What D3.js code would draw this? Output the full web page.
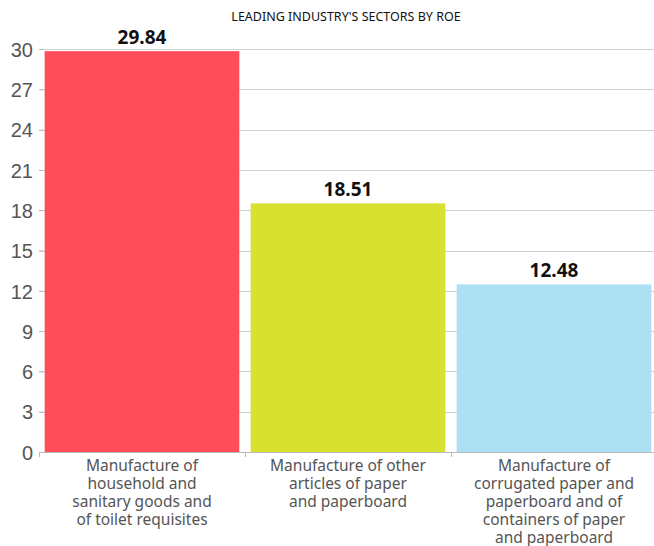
<!DOCTYPE html>
<meta charset="utf-8">
<style>
body { margin: 0; background: #fff; }
svg { font-family: "Noto Sans", "Open Sans", sans-serif; }
.grid line { stroke: #cfcfcf; stroke-width: 1; }
.axis text { fill: #555; }
</style>
<svg width="654" height="546"></svg>
<script src="https://d3js.org/d3.v7.min.js"></script>
<script>

var categories = [
  ["Manufacture of", "household and", "sanitary goods and", "of toilet requisites"],
  ["Manufacture of other", "articles of paper", "and paperboard"],
  ["Manufacture of", "corrugated paper and", "paperboard and of", "containers of paper", "and paperboard"]
];
var values = [29.84, 18.51, 12.48];
var colors = ["#ff4d5a", "#d8e030", "#ade0f3"];
var yTicks = [0, 3, 6, 9, 12, 15, 18, 21, 24, 27, 30];
var title = "LEADING INDUSTRY'S SECTORS BY ROE";

var svg = d3.select("svg"),
    plotLeft = 39, plotRight = 657, plotTop = 49, plotBottom = 452;

var x = d3.scaleBand()
    .domain(d3.range(values.length))
    .range([plotLeft, plotRight])
    .paddingInner(0.055)
    .paddingOuter(0.0275);

var y = d3.scaleLinear()
    .domain([0, 30])
    .range([plotBottom, plotTop]);

svg.append("text")
    .attr("x", 346)
    .attr("y", 21)
    .attr("text-anchor", "middle")
    .style("font-size", "12.5px")
    .style("fill", "#111")
    .text(title);

// gridlines
svg.append("g")
    .attr("class", "grid")
  .selectAll("line")
  .data(yTicks.filter(function(d) { return d > 0; }))
  .enter().append("line")
    .attr("x1", plotLeft)
    .attr("x2", 654)
    .attr("y1", function(d) { return Math.round(y(d)) + 0.5; })
    .attr("y2", function(d) { return Math.round(y(d)) + 0.5; });

// bars
svg.append("g").selectAll("rect")
  .data(values)
  .enter().append("rect")
    .attr("x", function(d, i) { return x(i); })
    .attr("width", x.bandwidth())
    .attr("y", function(d) { return y(d); })
    .attr("height", function(d) { return plotBottom - y(d); })
    .attr("fill", function(d, i) { return colors[i]; });

// value labels
svg.append("g").selectAll("text")
  .data(values)
  .enter().append("text")
    .attr("x", function(d, i) { return x(i) + x.bandwidth() / 2; })
    .attr("y", function(d) { return y(d) - 7; })
    .attr("text-anchor", "middle")
    .style("font-size", "19px")
    .style("font-weight", "bold")
    .style("fill", "#111")
    .text(function(d) { return d.toFixed(2); });

// y axis
var yAxis = svg.append("g")
    .attr("class", "axis")
    .attr("transform", "translate(" + (plotLeft + 5) + ",0)")
    .call(d3.axisLeft(y).tickValues(yTicks).tickSize(5).tickPadding(6));
yAxis.select(".domain").remove();
yAxis.selectAll("line").attr("stroke", "#bbb");
yAxis.selectAll("text").style("font-size", "20px").attr("dy", "0.36em");

// x axis baseline
svg.append("line")
    .attr("x1", plotLeft)
    .attr("x2", 654)
    .attr("y1", plotBottom + 0.5)
    .attr("y2", plotBottom + 0.5)
    .attr("stroke", "#bbb");

var step = x.step();
svg.append("g").selectAll("line")
  .data(d3.range(values.length))
  .enter().append("line")
    .attr("x1", function(i) { return plotLeft + i * step + 0.5; })
    .attr("x2", function(i) { return plotLeft + i * step + 0.5; })
    .attr("y1", plotBottom)
    .attr("y2", plotBottom + 5)
    .attr("stroke", "#bbb");

// category labels
var cat = svg.append("g").attr("class", "axis").selectAll("text")
  .data(categories)
  .enter().append("text")
    .attr("x", function(d, i) { return x(i) + x.bandwidth() / 2; })
    .attr("y", 471)
    .attr("text-anchor", "middle")
    .style("font-size", "15.5px");

cat.selectAll("tspan")
  .data(function(d) { return d; })
  .enter().append("tspan")
    .attr("x", function() { return this.parentNode.getAttribute("x"); })
    .attr("dy", function(d, i) { return i ? 18 : 0; })
    .text(function(d) { return d; });

</script>
